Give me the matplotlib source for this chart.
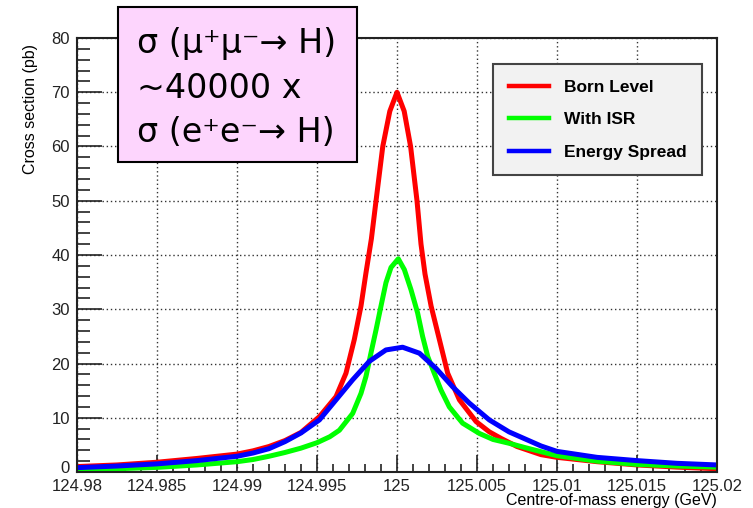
import numpy as np
import matplotlib
matplotlib.use("Agg")
import matplotlib.pyplot as plt
import matplotlib.transforms as mtransforms
from matplotlib.patches import Rectangle
from matplotlib.ticker import MultipleLocator

# ----------------------------------------------------------------------
# data: offset from 125 GeV in MeV, cross section in pb
# ----------------------------------------------------------------------
born_d = [-20, -17.5, -15, -12.5, -10, -9, -8, -7, -6, -4.85, -3.81, -3.19, -2.67,
          -2.25, -1.94, -1.6, -1.31, -0.89, -0.45, 0, 0.45, 0.85, 1.25, 1.5, 1.75,
          2.13, 2.65, 3.17, 3.9, 4.94, 5.77, 6.5, 7.5, 9, 10, 12.5, 15, 17.5, 20]
born_xs = [1.0, 1.3, 1.8, 2.5, 3.3, 3.9, 4.7, 5.8, 7.3, 10.2, 13.9, 18.2, 24.4,
           30.6, 36.7, 43.0, 50.0, 60.0, 66.5, 70.0, 66.5, 60.0, 50.0, 42.0, 36.5,
           30.6, 24.4, 18.2, 13.3, 9.3, 7.4, 6.2, 4.7, 3.2, 2.7, 1.9, 1.3, 0.9, 0.6]

isr_d = [-20, -17.5, -15, -12.5, -10, -9, -8, -7, -6, -5, -4.2, -3.6, -2.77, -2.25,
         -1.94, -1.63, -1.31, -1.0, -0.69, -0.375, 0.08, 0.46, 0.875, 1.29, 1.6,
         1.92, 2.33, 2.75, 3.27, 4.1, 5.15, 6, 7, 8, 10, 12.5, 15, 17.5, 20]
isr_xs = [0.4, 0.6, 0.85, 1.3, 1.9, 2.3, 2.9, 3.6, 4.4, 5.4, 6.5, 7.7, 10.8, 14.5,
          17.6, 21.9, 26.2, 30.6, 34.9, 37.7, 39.3, 37.3, 33.6, 29.3, 25.0,
          21.3, 18.2, 15.1, 12.0, 9.0, 7.1, 6.0, 5.3, 4.5, 3.0, 2.0, 1.4, 1.1, 0.9]

spread_d = [-20, -17.5, -15, -12.5, -10, -9, -8, -7, -6, -4.85, -3.81, -2.77, -1.73,
            -0.69, 0.35, 1.4, 2.44, 3.48, 4.52, 5.77, 7, 8, 9, 10, 12.5, 15, 17.5, 20]
spread_xs = [0.8, 1.1, 1.5, 2.1, 2.9, 3.5, 4.3, 5.6, 7.2, 9.6, 13.3, 17.0, 20.4,
             22.5, 23.0, 21.9, 19.1, 15.7, 12.7, 9.6, 7.4, 6.1, 4.8, 3.8, 2.7, 2.1,
             1.6, 1.3]

x_ticks = [124.98, 124.985, 124.99, 124.995, 125.0, 125.005, 125.01, 125.015, 125.02]
x_tick_labels = ["124.98", "124.985", "124.99", "124.995", "125", "125.005",
                 "125.01", "125.015", "125.02"]
y_ticks = [0, 10, 20, 30, 40, 50, 60, 70, 80]

series = [
    ("Born Level", born_d, born_xs, "#ff0000"),
    ("With ISR", isr_d, isr_xs, "#00ff00"),
    ("Energy Spread", spread_d, spread_xs, "#0000ff"),
]

W, H = 753, 508
plt.rcParams["font.family"] = ["Liberation Sans", "DejaVu Sans"]

fig = plt.figure(figsize=(W / 100, H / 100), dpi=100)
ax = fig.add_axes([77 / W, 1 - 472 / H, 640 / W, 434 / H])

for name, d, xs, col in series:
    energy = 125.0 + np.array(d) / 1000.0
    ax.plot(energy, xs, color=col, lw=3.6, label=name)

ax.set_xlim(124.98, 125.02)
ax.set_ylim(0, 80)
ax.set_xticks(x_ticks)
ax.set_xticklabels(x_tick_labels)
ax.set_yticks(y_ticks)
ax.xaxis.set_minor_locator(MultipleLocator(0.001))
ax.yaxis.set_minor_locator(MultipleLocator(2))
ax.tick_params(which="both", direction="in", top=False, right=False,
               labelsize=12, colors="#222222", width=1.2)
ax.tick_params(axis="y", which="major", length=18, pad=5)
ax.tick_params(axis="y", which="minor", length=9)
ax.tick_params(axis="x", which="major", length=12, pad=5)
ax.tick_params(axis="x", which="minor", length=6)
ax.grid(True, which="major", ls=(0, (1, 2)), color="#333333", lw=1.0)
for s in ax.spines.values():
    s.set_linewidth(1.5)
    s.set_color("#222222")

# nudge the "0" label up a little so it clears "124.98"
zero_lab = ax.get_yticklabels()[0]
zero_lab.set_transform(zero_lab.get_transform()
                       + mtransforms.ScaledTranslation(0, 5 / 100, fig.dpi_scale_trans))

fig.text(30 / W, 1 - 44 / H, "Cross section (pb)", rotation=90, ha="center",
         va="top", fontsize=11.5)
fig.text(717 / W, 1 - 501 / H, "Centre-of-mass energy (GeV)", ha="right",
         va="center", fontsize=11.5)

leg = ax.legend(loc="upper left", bbox_to_anchor=(493 / W, 1 - 64 / H),
                bbox_transform=fig.transFigure, borderaxespad=0, fancybox=False,
                framealpha=1, facecolor="#f2f2f2", edgecolor="#444444",
                prop={"weight": "bold", "size": 12.5}, handlelength=2.3,
                handletextpad=0.9, labelspacing=1.0, borderpad=0.9)
leg.get_frame().set_linewidth(1.5)
for line in leg.get_lines():
    line.set_linewidth(3.2)

# pink annotation box on top of the frame
box = Rectangle((118 / W, 1 - 162 / H), 239 / W, 155 / H, transform=fig.transFigure,
                facecolor="#fdd5fd", edgecolor="black", lw=1.5, zorder=5)
fig.add_artist(box)
for i, txt in enumerate(["σ (μ⁺μ⁻→ H)", "~40000 x", "σ (e⁺e⁻→ H)"]):
    fig.text(137 / W, 1 - (43 + 45 * i) / H, txt, fontsize=24, ha="left",
             va="center", family="DejaVu Sans", zorder=6)

fig.savefig("out.png", dpi=100)
